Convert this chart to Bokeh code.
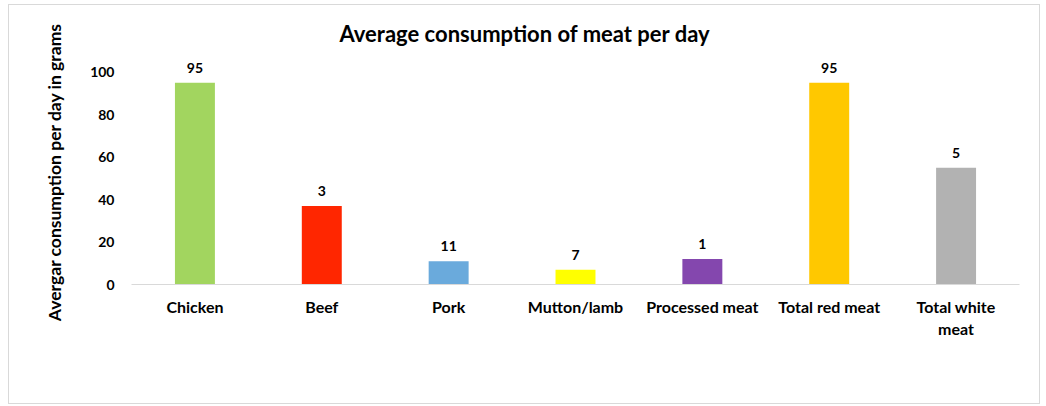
from bokeh.plotting import figure
from bokeh.models import ColumnDataSource, Range1d, FactorRange
from bokeh.embed import file_html
from bokeh.resources import INLINE
from bokeh.core.properties import value

categories = ["Chicken", "Beef", "Pork", "Mutton/lamb", "Processed meat", "Total red meat", "Total white\nmeat"]
bar_values = [95, 37, 11, 7, 12, 95, 55]
label_texts = ["95", "3", "11", "7", "1", "95", "5"]
colors = ["#A2D55F", "#FF2600", "#6AAADC", "#FFFF00", "#8447AE", "#FFC800", "#B2B2B2"]
y_ticks = [0, 20, 40, 60, 80, 100]

FONT = "Lato"

source = ColumnDataSource(dict(cat=categories, val=bar_values, lbl=label_texts, color=colors))

p = figure(
    width=1032, height=400,
    x_range=FactorRange(factors=categories, range_padding=0),
    y_range=Range1d(0, 106),
    output_backend="svg", toolbar_location=None,
    min_border_left=122, min_border_right=22, min_border_top=54, min_border_bottom=121,
    title="Average consumption of meat per day",
)
p.styles = {"border": "1px solid #d9d9d9", "margin-left": "8px", "margin-top": "4px"}

p.title.align = "left"
p.title.offset = 208
p.title.text_font = FONT
p.title.text_font_size = "22px"
p.title.text_font_style = "bold"
p.title.text_color = "#000000"
p.title.standoff = 25

p.vbar(x="cat", top="val", width=0.315, fill_color="color", line_color=None, source=source)
p.text(x="cat", y="val", text="lbl", source=source, text_align="center", text_baseline="bottom",
       y_offset=-10, text_font=value(FONT), text_font_style="bold", text_font_size="14px",
       text_color="#000000")

p.xgrid.visible = False
p.ygrid.visible = False
p.outline_line_color = None

xa = p.xaxis[0]
xa.axis_line_color = "#d9d9d9"
xa.major_tick_line_color = None
xa.minor_tick_line_color = None
xa.major_label_standoff = 6
xa.major_label_text_font = FONT
xa.major_label_text_font_size = "16px"
xa.major_label_text_font_style = "bold"
xa.major_label_text_color = "#000000"

ya = p.yaxis[0]
ya.ticker = y_ticks
ya.axis_line_color = None
ya.major_tick_line_color = None
ya.minor_tick_line_color = None
ya.major_label_standoff = 11
ya.major_label_text_font = FONT
ya.major_label_text_font_size = "14px"
ya.major_label_text_font_style = "bold"
ya.major_label_text_color = "#000000"
ya.axis_label = "Avergar consumption per day in grams"
ya.axis_label_text_font = FONT
ya.axis_label_text_font_size = "17.5px"
ya.axis_label_text_font_style = "bold"
ya.axis_label_text_color = "#000000"
ya.axis_label_standoff = 22

open("out.html", "w").write(file_html(p, INLINE))
